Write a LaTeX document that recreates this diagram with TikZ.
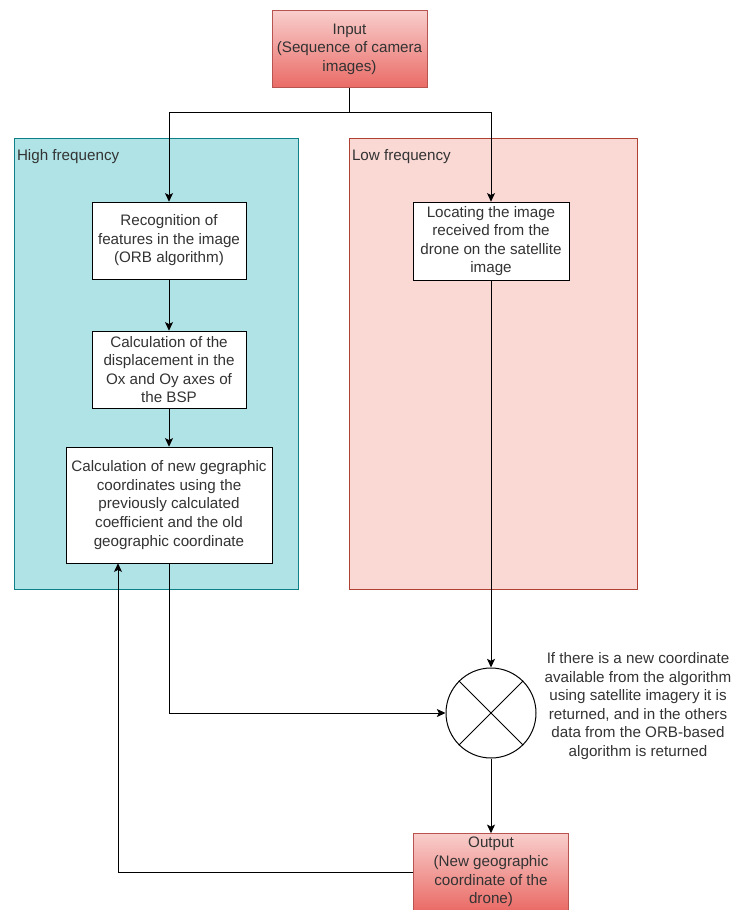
\documentclass[tikz,border=0pt]{standalone}
\usepackage{fontspec}
\setmainfont{Liberation Sans}
\usetikzlibrary{arrows.meta}

\definecolor{hfFill}{HTML}{B0E3E6}
\definecolor{hfLine}{HTML}{0E8088}
\definecolor{lfFill}{HTML}{FAD9D5}
\definecolor{lfLine}{HTML}{AE4132}
\definecolor{ioTop}{HTML}{F8CECC}
\definecolor{ioBot}{HTML}{EA6B66}
\definecolor{ioLine}{HTML}{B85450}
\definecolor{txt}{HTML}{333333}

\newcommand{\diafont}{\fontsize{11.4}{13.9}\selectfont}

\tikzset{
  stepbox/.style={draw=black, fill=white, align=center, inner sep=1pt,
    font=\diafont, text=txt},
  iobox/.style={draw=ioLine, top color=ioTop, bottom color=ioBot, align=center,
    inner sep=1pt, minimum width=116.25pt, minimum height=57.75pt,
    font=\diafont, text=txt},
  group/.style={draw, minimum height=338.25pt},
  grouplabel/.style={anchor=north west, inner sep=0pt, font=\diafont, text=txt},
  arr/.style={-{Stealth[length=6.5pt,width=6pt,inset=1.5pt]}, line width=0.75pt},
  line/.style={line width=0.75pt}
}

\begin{document}
\begin{tikzpicture}[x=0.75pt, y=-0.75pt]
  \useasboundingbox (0,0) rectangle (733,910);

  % frequency groups
  \node[group, draw=hfLine, fill=hfFill, minimum width=213pt] (hf) at (156,363.5) {};
  \node[group, draw=lfLine, fill=lfFill, minimum width=216pt] (lf) at (493,363.5) {};
  \node[grouplabel] (hflabel) at ([shift={(3,11)}]hf.north west) {High frequency};
  \node[grouplabel] (lflabel) at ([shift={(3,11)}]lf.north west) {Low frequency};

  \node[iobox] (in) at (349.5,49) {Input\\(Sequence of camera\\images)};

  \node[stepbox, minimum width=115.5pt, minimum height=57.75pt] (rec) at (169,240.5)
    {Recognition of\\features in the image\\(ORB algorithm)};
  \node[stepbox, minimum width=115.5pt, minimum height=57.75pt] (disp) at (169,369.5)
    {Calculation of the\\displacement in the\\Ox and Oy axes of\\the BSP};
  \node[stepbox, minimum width=154.5pt, minimum height=87pt] (new) at (169,505)
    {Calculation of new gegraphic\\coordinates using the\\previously calculated\\coefficient and the old\\geographic coordinate};
  \node[stepbox, minimum width=117pt, minimum height=58.5pt] (loc) at (491,241)
    {Locating the image\\received from the\\drone on the satellite\\image};

  % switch
  \node[draw, circle, fill=white, line width=0.75pt, minimum size=67.5pt] (sw) at (491,713) {};
  \draw[line] (sw.north west) -- (sw.south east);
  \draw[line] (sw.north east) -- (sw.south west);
  \node[align=center, font=\diafont, text=txt] (note) at (638,706)
    {If there is a new coordinate\\available from the algorithm\\using satellite imagery it is\\returned, and in the others\\data from the ORB-based\\algorithm is returned};

  \node[iobox] (out) at (491,872) {Output\\(New geographic\\coordinate of the\\drone)};

  \coordinate (split) at (349.5,112);
  \coordinate (back) at (118,872);

  \draw[arr] (in.south) -- (split) -| (rec.north);
  \draw[arr] (split) -| (loc.north);
  \draw[arr] (rec) -- (disp);
  \draw[arr] (disp) -- (new);
  \draw[arr] (new.south) |- (sw.west);
  \draw[arr] (loc.south) -- (sw.north);
  \draw[arr] (sw.south) -- (out.north);
  \draw[arr] (out.west) -- (back) -- (back |- new.south);
\end{tikzpicture}
\end{document}
